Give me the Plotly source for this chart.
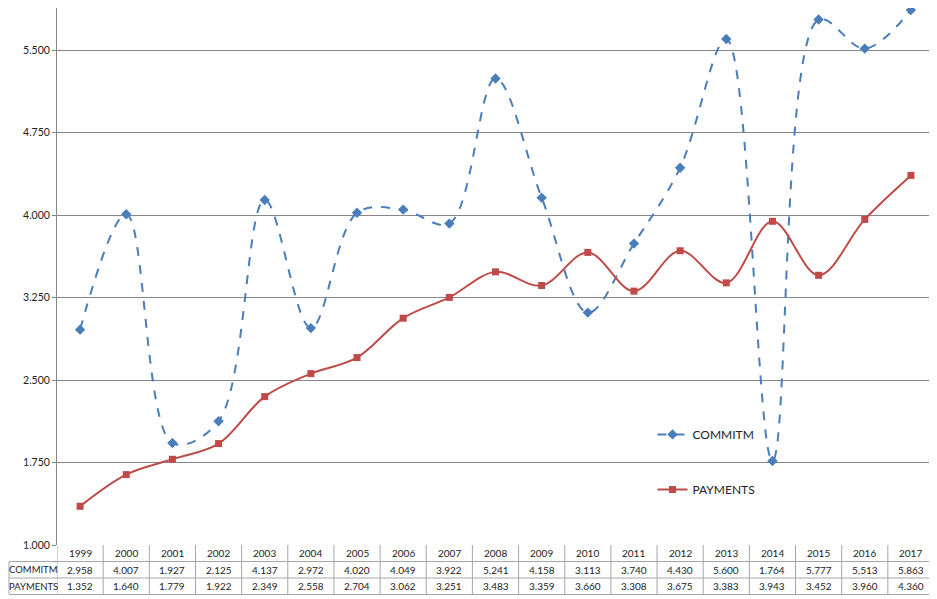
import plotly.graph_objects as go

years = ["1999", "2000", "2001", "2002", "2003", "2004", "2005", "2006", "2007",
         "2008", "2009", "2010", "2011", "2012", "2013", "2014", "2015", "2016", "2017"]
commitm = [2.958, 4.007, 1.927, 2.125, 4.137, 2.972, 4.020, 4.049, 3.922,
           5.241, 4.158, 3.113, 3.740, 4.430, 5.600, 1.764, 5.777, 5.513, 5.863]
payments = [1.352, 1.640, 1.779, 1.922, 2.349, 2.558, 2.704, 3.062, 3.251,
            3.483, 3.359, 3.660, 3.308, 3.675, 3.383, 3.943, 3.452, 3.960, 4.360]
y_ticks = [1.000, 1.750, 2.500, 3.250, 4.000, 4.750, 5.500]

BLUE = "#4A7EBB"
RED = "#BE4B48"
GRID = "#868686"
TABLE = "#A6A6A6"
FONT = "Lato"

fig = go.Figure()
fig.add_trace(go.Scatter(
    x=years, y=commitm, name="COMMITM", mode="lines+markers", cliponaxis=False,
    line=dict(color=BLUE, width=2, dash="dash", shape="spline", smoothing=1.0),
    marker=dict(symbol="diamond", size=8, color=BLUE),
    legendgroup="a",
))
fig.add_trace(go.Scatter(
    x=years, y=payments, name="PAYMENTS", mode="lines+markers", cliponaxis=False,
    line=dict(color=RED, width=2, shape="spline", smoothing=1.0),
    marker=dict(symbol="square", size=7, color=RED),
    legendgroup="b",
))

# data table under the plot
rows = [("", years), ("COMMITM", [f"{v:.3f}" for v in commitm]),
        ("PAYMENTS", [f"{v:.3f}" for v in payments])]
row_h = 16.5
annotations = []
for r, (label, cells) in enumerate(rows):
    yshift = -(r + 0.5) * row_h
    for i, txt in enumerate(cells):
        annotations.append(dict(x=i, y=0, xref="x", yref="paper", text=txt,
                                showarrow=False, xanchor="center", yanchor="middle",
                                yshift=yshift, font=dict(size=10, color="#222", family=FONT)))
    if label:
        annotations.append(dict(x=0, y=0, xref="paper", yref="paper", text=label,
                                showarrow=False, xanchor="center", yanchor="middle",
                                xshift=-24, yshift=yshift,
                                font=dict(size=9.5, color="#222", family=FONT)))

shapes = []
# horizontal table lines
for r in range(1, 4):
    off = -r * row_h
    shapes.append(dict(type="line", xref="paper", yref="paper", ysizemode="pixel",
                       yanchor=0, x0=0, x1=1, y0=off, y1=off,
                       line=dict(color=TABLE, width=1)))
    shapes.append(dict(type="line", xref="paper", yref="paper", xsizemode="pixel",
                       ysizemode="pixel", xanchor=0, yanchor=0, x0=-48, x1=0,
                       y0=off, y1=off, line=dict(color=TABLE, width=1)))
# vertical table lines at category boundaries
for i in range(len(years) + 1):
    shapes.append(dict(type="line", xref="x", yref="paper", ysizemode="pixel",
                       yanchor=0, x0=i - 0.5, x1=i - 0.5, y0=0, y1=-3 * row_h,
                       line=dict(color=TABLE, width=1)))
shapes.append(dict(type="line", xref="paper", yref="paper", xsizemode="pixel",
                   ysizemode="pixel", xanchor=0, yanchor=0, x0=-48, x1=-48,
                   y0=-row_h, y1=-3 * row_h, line=dict(color=TABLE, width=1)))
# right edge of chart area
shapes.append(dict(type="line", xref="paper", yref="paper", x0=1, x1=1, y0=0, y1=1,
                   line=dict(color="#6F86AE", width=1.5)))

fig.update_layout(
    width=929, height=591,
    margin=dict(l=49, r=3, t=0, b=54),
    paper_bgcolor="white", plot_bgcolor="white",
    font=dict(family=FONT, size=11, color="#222"),
    showlegend=True,
    legend=dict(x=0.679, y=0.233, xanchor="left", yanchor="top",
                bgcolor="rgba(0,0,0,0)", tracegroupgap=36, traceorder="grouped",
                font=dict(size=12, family=FONT, color="#222")),
    xaxis=dict(type="category", range=[-0.5, len(years) - 0.5], showticklabels=False,
               showgrid=False, zeroline=False, showline=False, ticks=""),
    yaxis=dict(range=[1.0, 5.882], tickvals=y_ticks, tickformat=".3f",
               showgrid=True, gridcolor=GRID, gridwidth=1, zeroline=False,
               showline=True, linecolor=GRID, linewidth=1,
               ticks="outside", ticklen=4, tickcolor=GRID,
               tickfont=dict(size=10.5, family=FONT, color="#222")),
    annotations=annotations,
    shapes=shapes,
)

fig.write_html("out.html")
